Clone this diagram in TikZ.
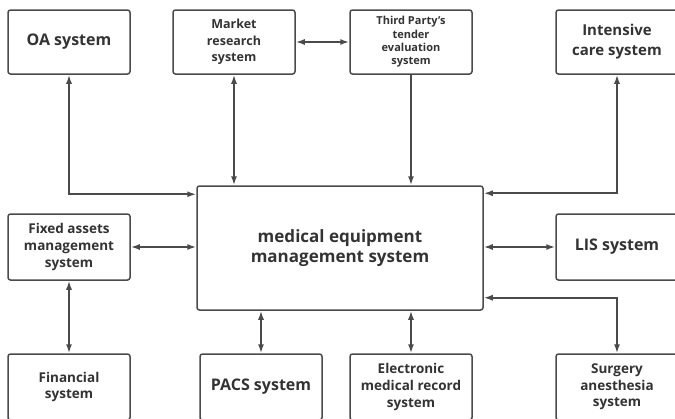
\documentclass[tikz,border=0pt]{standalone}
\usepackage{fontspec}
\setmainfont{Open Sans}
\usetikzlibrary{arrows.meta, positioning}
\definecolor{ink}{HTML}{4A4A4A}
\definecolor{txt}{HTML}{333333}

\begin{document}
\begin{tikzpicture}[x=1pt, y=-1pt]

    \useasboundingbox (0,0) rectangle (675,418); % size of the reference
    \clip (0,0) rectangle (675,418);

    % boxes: same width, text sizes vary from box to box
    \begin{scope}[every node/.style={draw=ink, line width=1.5pt, rounded corners=2.5pt,
                                     minimum width=122pt, minimum height=64pt,
                                     align=center, text=txt, inner sep=1pt},
                  hg/.style={font=\bfseries\fontsize{16}{20}\selectfont},
                  lg/.style={font=\bfseries\fontsize{15}{20}\selectfont},
                  md/.style={font=\bfseries\fontsize{13.5}{16.7}\selectfont},
                  sm/.style={font=\bfseries\fontsize{12.5}{16.7}\selectfont},
                  xs/.style={font=\bfseries\fontsize{11}{13.3}\selectfont},
                  low/.style={minimum height=66pt}]

    \node [hg] (oa)    at (69,42)  {OA system};
    \node [sm] (mkt)   at (234,42) {Market\\research\\system};
    \node [xs] (third) at (411,42) {Third Party's\\tender\\evaluation\\system};
    \node [lg] (icu)   at (617,42) {Intensive\\care system};

    \node [font=\bfseries\fontsize{17}{20}\selectfont, minimum width=286pt, minimum height=124pt]
          (main) at (340,248) {medical equipment\\management system};

    \node [md, low] (fixed) at (69,247)  {Fixed assets\\management\\system};
    \node [hg, low] (lis)   at (617,247) {LIS system};

    \node [md, low] (fin)   at (69,387)  {Financial\\system};
    \node [hg, low] (pacs)  at (261,387) {PACS system};
    \node [md, low] (emr)   at (411,387) {Electronic\\medical record\\system};
    \node [md, low] (surg)  at (617,387) {Surgery\\anesthesia\\system};

    \end{scope}

    % connectors
    \begin{scope}[every path/.style={draw=ink, line width=1.6pt,
                                     {Latex[length=9pt,width=6pt]}-{Latex[length=9pt,width=6pt]}}]

        \draw (oa.south) |- ([yshift=-9pt]main.north west);
        \draw (mkt.south) -- (mkt.south |- main.north);
        \draw (mkt.east) -- (third.west);
        \draw [-{Latex[length=9pt,width=6pt]}] (third.south) -- (third.south |- main.north);
        \draw (icu.south) |- ([yshift=-8pt]main.north east);

        \draw (fixed.east) -- (fixed.east -| main.west);
        \draw (lis.west) -- (lis.west -| main.east);
        \draw (fixed.south) -- (fin.north);

        \draw (pacs.north) -- (pacs.north |- main.south);
        \draw (emr.north) -- (emr.north |- main.south);
        \draw (surg.north) |- ([yshift=13pt]main.south east);

    \end{scope}

\end{tikzpicture}
\end{document}
